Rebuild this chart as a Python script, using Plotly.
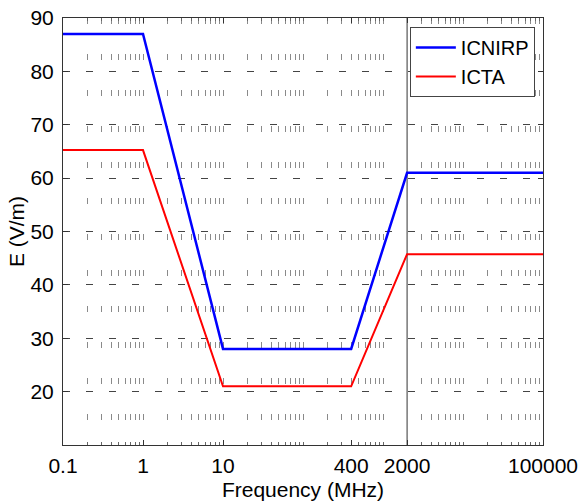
import plotly.graph_objects as go

freq = [0.1, 1, 10, 400, 2000, 100000]
icnirp = [87, 87, 28, 28, 61, 61]
icta = [65.25, 65.25, 21, 21, 45.75, 45.75]
x_tickvals = [0.1, 1, 10, 400, 2000, 100000]
x_ticktext = ["0.1", "1", "10", "400", "2000", "100000"]
y_tickvals = [20, 30, 40, 50, 60, 70, 80, 90]
minor_vals = [m * 10 ** k for k in range(-1, 5) for m in range(1, 10)][1:]

font = "Liberation Sans, Arial, sans-serif"

fig = go.Figure()
fig.add_trace(go.Scatter(x=freq, y=icnirp, mode="lines", name="ICNIRP",
                         line=dict(color="#0000ff", width=2.5)))
fig.add_trace(go.Scatter(x=freq, y=icta, mode="lines", name="ICTA",
                         line=dict(color="#ff0000", width=2)))

fig.add_shape(type="line", xref="x", yref="paper", x0=2000, x1=2000, y0=0, y1=1,
              line=dict(color="#333333", width=1), layer="below")

fig.update_layout(
    width=579, height=504,
    margin=dict(l=63, r=36, t=18, b=59, autoexpand=False),
    paper_bgcolor="white", plot_bgcolor="white",
    font=dict(family=font, size=21, color="black"),
    showlegend=True,
    legend=dict(x=0.983, y=0.979, xanchor="right", yanchor="top",
                bgcolor="white", bordercolor="#444444", borderwidth=1,
                font=dict(size=20), tracegroupgap=0,
                itemwidth=40, entrywidth=128, entrywidthmode="pixels"),
)

fig.update_xaxes(
    type="log", range=[-1, 5], automargin=False,
    tickmode="array", tickvals=x_tickvals, ticktext=x_ticktext,
    showgrid=False, ticks="inside", ticklen=5, tickcolor="#333333",
    showline=True, linecolor="#333333", linewidth=1, mirror="ticks",
    ticklabelstandoff=2,
    minor=dict(tickmode="array", tickvals=minor_vals, showgrid=True,
               gridcolor="#8a8a8a", griddash="6px,30px", gridwidth=1,
               ticks="inside", ticklen=3, tickcolor="#666666"),
    title=dict(text="Frequency (MHz)", font=dict(size=21), standoff=6),
    zeroline=False,
)

fig.update_yaxes(
    range=[10, 90], automargin=False,
    tickmode="array", tickvals=y_tickvals,
    showgrid=True, gridcolor="#444444", griddash="7px,16px", gridwidth=1,
    ticks="inside", ticklen=5, tickcolor="#333333",
    showline=True, linecolor="#333333", linewidth=1, mirror="ticks",
    ticklabelstandoff=4,
    title=dict(text="E (V/m)", font=dict(size=21), standoff=0),
    zeroline=False,
)

fig.write_html("out.html", config={"displayModeBar": False},
               post_script="document.body.style.margin='0px';document.body.style.overflow='hidden';")
